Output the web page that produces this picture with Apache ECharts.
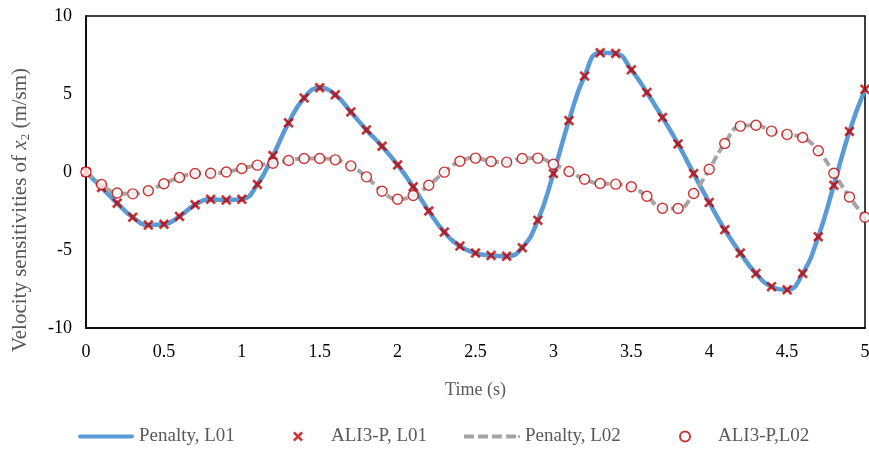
<!DOCTYPE html>
<html>
<head>
<meta charset="utf-8">
<script src="https://cdn.jsdelivr.net/npm/echarts@6/dist/echarts.min.js"></script>
<style>html,body{margin:0;padding:0;background:#fff}#c{width:869px;height:449px}</style>
</head>
<body>
<div id="c"></div>
<script>
var times = [0,0.1,0.2,0.3,0.4,0.5,0.6,0.7,0.8,0.9,1.0,1.1,1.2,1.3,1.4,1.5,1.6,1.7,1.8,1.9,2.0,2.1,2.2,2.3,2.4,2.5,2.6,2.7,2.8,2.9,3.0,3.1,3.2,3.3,3.4,3.5,3.6,3.7,3.8,3.9,4.0,4.1,4.2,4.3,4.4,4.5,4.6,4.7,4.8,4.9,5.0];
var L01 = [0,-1.0,-2.0,-2.9,-3.4,-3.35,-2.85,-2.1,-1.75,-1.8,-1.75,-0.8,1.05,3.15,4.75,5.4,4.95,3.85,2.7,1.65,0.45,-0.95,-2.5,-3.85,-4.75,-5.2,-5.35,-5.4,-4.85,-3.1,-0.1,3.3,6.15,7.65,7.6,6.55,5.1,3.5,1.8,-0.1,-1.95,-3.7,-5.2,-6.5,-7.35,-7.55,-6.5,-4.15,-0.85,2.6,5.3];
var L02 = [0,-0.8,-1.35,-1.4,-1.2,-0.75,-0.35,-0.1,-0.08,0.0,0.22,0.44,0.56,0.74,0.87,0.87,0.78,0.39,-0.31,-1.23,-1.75,-1.51,-0.85,-0.01,0.69,0.89,0.67,0.63,0.87,0.89,0.5,0.03,-0.46,-0.74,-0.78,-0.95,-1.55,-2.32,-2.34,-1.38,0.18,1.83,2.94,3.0,2.62,2.41,2.21,1.36,-0.08,-1.6,-2.9];
var seriesNames = ['Penalty, L01','ALI3-P, L01','Penalty, L02','ALI3-P,L02'];
var xTicks = {min:0,max:5,interval:0.5};
var yTicks = {min:-10,max:10,interval:5};

function pairs(v){ return times.map(function(t,i){ return [t, v[i]]; }); }
var crossPath = 'path://M0,1.8 L1.8,0 L5,3.2 L8.2,0 L10,1.8 L6.8,5 L10,8.2 L8.2,10 L5,6.8 L1.8,10 L0,8.2 L3.2,5 Z';
var solidIcon = 'path://M2,0 H54 A2,2 0 0 1 54,4 H2 A2,2 0 0 1 2,0 Z';
var dashIcon = 'path://M0,0 H10 V4 H0 Z M14,0 H24 V4 H14 Z M28,0 H38 V4 H28 Z M42,0 H52 V4 H42 Z M54,0.8 H56 V3.2 H54 Z';
var font = '"Liberation Serif","Times New Roman",serif';

function legendAt(left, item){
  return {left:left,top:422,itemWidth:56,itemHeight:10,itemGap:0,
    textStyle:{color:'#595959',fontSize:19,fontFamily:font},data:[item]};
}

var chart = echarts.init(document.getElementById('c'), null, {renderer:'canvas'});
chart.setOption({
  animation:false,
  backgroundColor:'#fff',
  textStyle:{fontFamily:font},
  grid:{left:86,right:4,top:16,bottom:121,show:true,borderColor:'#000',borderWidth:1.5,containLabel:false,outerBoundsMode:'none'},
  xAxis:{
    type:'value',min:xTicks.min,max:xTicks.max,interval:xTicks.interval,
    axisLine:{show:true,onZero:false,lineStyle:{color:'#000',width:1.5}},
    axisTick:{show:false},splitLine:{show:false},
    axisLabel:{color:'#000',fontSize:18,fontFamily:font,margin:15,showMaxLabel:true,showMinLabel:true},
    name:'Time (s)',nameLocation:'middle',nameGap:53,
    nameTextStyle:{color:'#595959',fontSize:18,fontFamily:font}
  },
  yAxis:{
    type:'value',min:yTicks.min,max:yTicks.max,interval:yTicks.interval,
    axisLine:{show:true,lineStyle:{color:'#000',width:1.5}},
    axisTick:{show:false},splitLine:{show:false},
    axisLabel:{color:'#000',fontSize:18,fontFamily:font,margin:14},
    name:'Velocity sensitivities of {i|x}{sub|2} (m/sm)',nameLocation:'middle',nameGap:54,
    nameTextStyle:{color:'#595959',fontSize:21,fontFamily:font,padding:[0,76,0,0],
      rich:{
        i:{fontStyle:'italic',fontSize:21,fontFamily:font,color:'#595959'},
        sub:{fontSize:13,fontFamily:font,color:'#595959',verticalAlign:'bottom',padding:[10,0,0,0]}
      }
    }
  },
  legend:[
    legendAt(73,{name:seriesNames[0],icon:solidIcon}),
    legendAt(288,{name:seriesNames[1]}),
    legendAt(459,{name:seriesNames[2],icon:dashIcon}),
    legendAt(674,{name:seriesNames[3]})
  ],
  series:[
    {name:seriesNames[0],type:'line',data:pairs(L01),smooth:0.5,symbol:'none',z:2,
      lineStyle:{color:'#5b9bd5',width:4.5},itemStyle:{color:'#5b9bd5'}},
    {name:seriesNames[2],type:'line',data:pairs(L02),smooth:0.5,symbol:'none',z:2,
      lineStyle:{color:'#a5a5a5',width:4,type:[9,4]},itemStyle:{color:'#a5a5a5'}},
    {name:seriesNames[1],type:'scatter',data:pairs(L01),symbol:crossPath,symbolSize:10.5,z:3,
      itemStyle:{color:'#c00000'}},
    {name:seriesNames[3],type:'scatter',data:pairs(L02),symbol:'circle',symbolSize:10,z:4,
      itemStyle:{color:'#fff',borderColor:'#c00000',borderWidth:1.4}}
  ]
});
</script>
</body>
</html>
